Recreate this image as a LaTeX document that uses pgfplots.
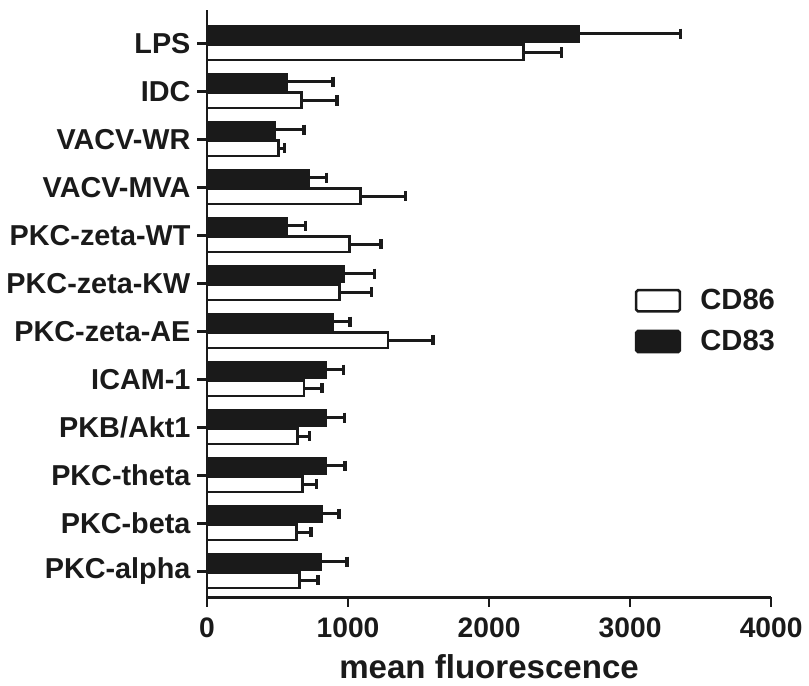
\documentclass[border=0pt]{standalone}
\usepackage{fontspec}
\setmainfont{Liberation Sans}
\usepackage{pgfplots}
\pgfplotsset{compat=1.18}
\definecolor{ink}{HTML}{1A1A1A}

\begin{document}
\begin{tikzpicture}
\begin{axis}[
  scale only axis,
  width=290pt, height=302pt,
  xbar,
  axis lines*=left,
  axis line style={draw=ink,line width=1.5pt},
  xmin=0, xmax=4000,
  ymin=-0.54, ymax=11.7,
  xtick={0,1000,2000,3000,4000},
  ytick={0,...,11},
  yticklabels={PKC-alpha,PKC-beta,PKC-theta,PKB/Akt1,ICAM-1,PKC-zeta-AE,PKC-zeta-KW,PKC-zeta-WT,VACV-MVA,VACV-WR,IDC,LPS},
  tick style={draw=ink,line width=1.3pt},
  tick align=outside,
  major tick length=5pt,
  scaled x ticks=false,
  /pgf/number format/assume math mode=true,
  /pgf/number format/1000 sep={},
  x tick label style={font=\fontsize{14.5}{17}\selectfont\bfseries,text=ink,yshift=-2pt},
  y tick label style={font=\fontsize{14.8}{17}\selectfont\bfseries,text=ink},
  xlabel={mean fluorescence},
  xlabel style={font=\fontsize{17}{20}\selectfont\bfseries,text=ink,yshift=-2pt},
  bar width=0.32,
  error bars/x dir=plus,
  error bars/x explicit,
  error bars/error mark=|,
  error bars/error bar style={line width=1.5pt,draw=ink},
  error bars/error mark options={line width=1.8pt,mark size=2.6pt,draw=ink},
  legend style={at={(axis cs:2990,6.05)},anchor=north west,draw=none,fill=none,
    font=\fontsize{15}{18}\selectfont\bfseries,text=ink,row sep=5pt},
  legend cell align=left,
  legend image code/.code={\draw[#1,line width=1.3pt,rounded corners=1pt] (0pt,-5.5pt) rectangle (22.5pt,5.5pt);
    \path[draw=none,fill=none] (22.5pt,0pt) -- (31pt,0pt);},
]
% CD86 (white)
\addplot[fill=white,draw=ink,line width=1.4pt,bar shift=-0.19] coordinates {
  (655,0)  +- (131,0)
  (636,1)  +- (103,0)
  (676,2)  +- (100,0)
  (641,3)  +- (84,0)
  (688,4)  +- (128,0)
  (1284,5) +- (317,0)
  (939,6)  +- (229,0)
  (1009,7) +- (226,0)
  (1086,8) +- (320,0)
  (508,9)  +- (40,0)
  (671,10) +- (250,0)
  (2245,11) +- (270,0)
};
% CD83 (black)
\addplot[fill=ink,draw=ink,line width=1.4pt,bar shift=0.2] coordinates {
  (804,0)  +- (187,0)
  (811,1)  +- (124,0)
  (842,2)  +- (135,0)
  (844,3)  +- (130,0)
  (839,4)  +- (128,0)
  (893,5)  +- (121,0)
  (970,6)  +- (219,0)
  (566,7)  +- (131,0)
  (718,8)  +- (128,0)
  (478,9)  +- (210,0)
  (562,10) +- (331,0)
  (2636,11) +- (721,0)
};
\legend{CD86,CD83}
\end{axis}
\path ([yshift=5pt]current axis.north);
\end{tikzpicture}
\end{document}
